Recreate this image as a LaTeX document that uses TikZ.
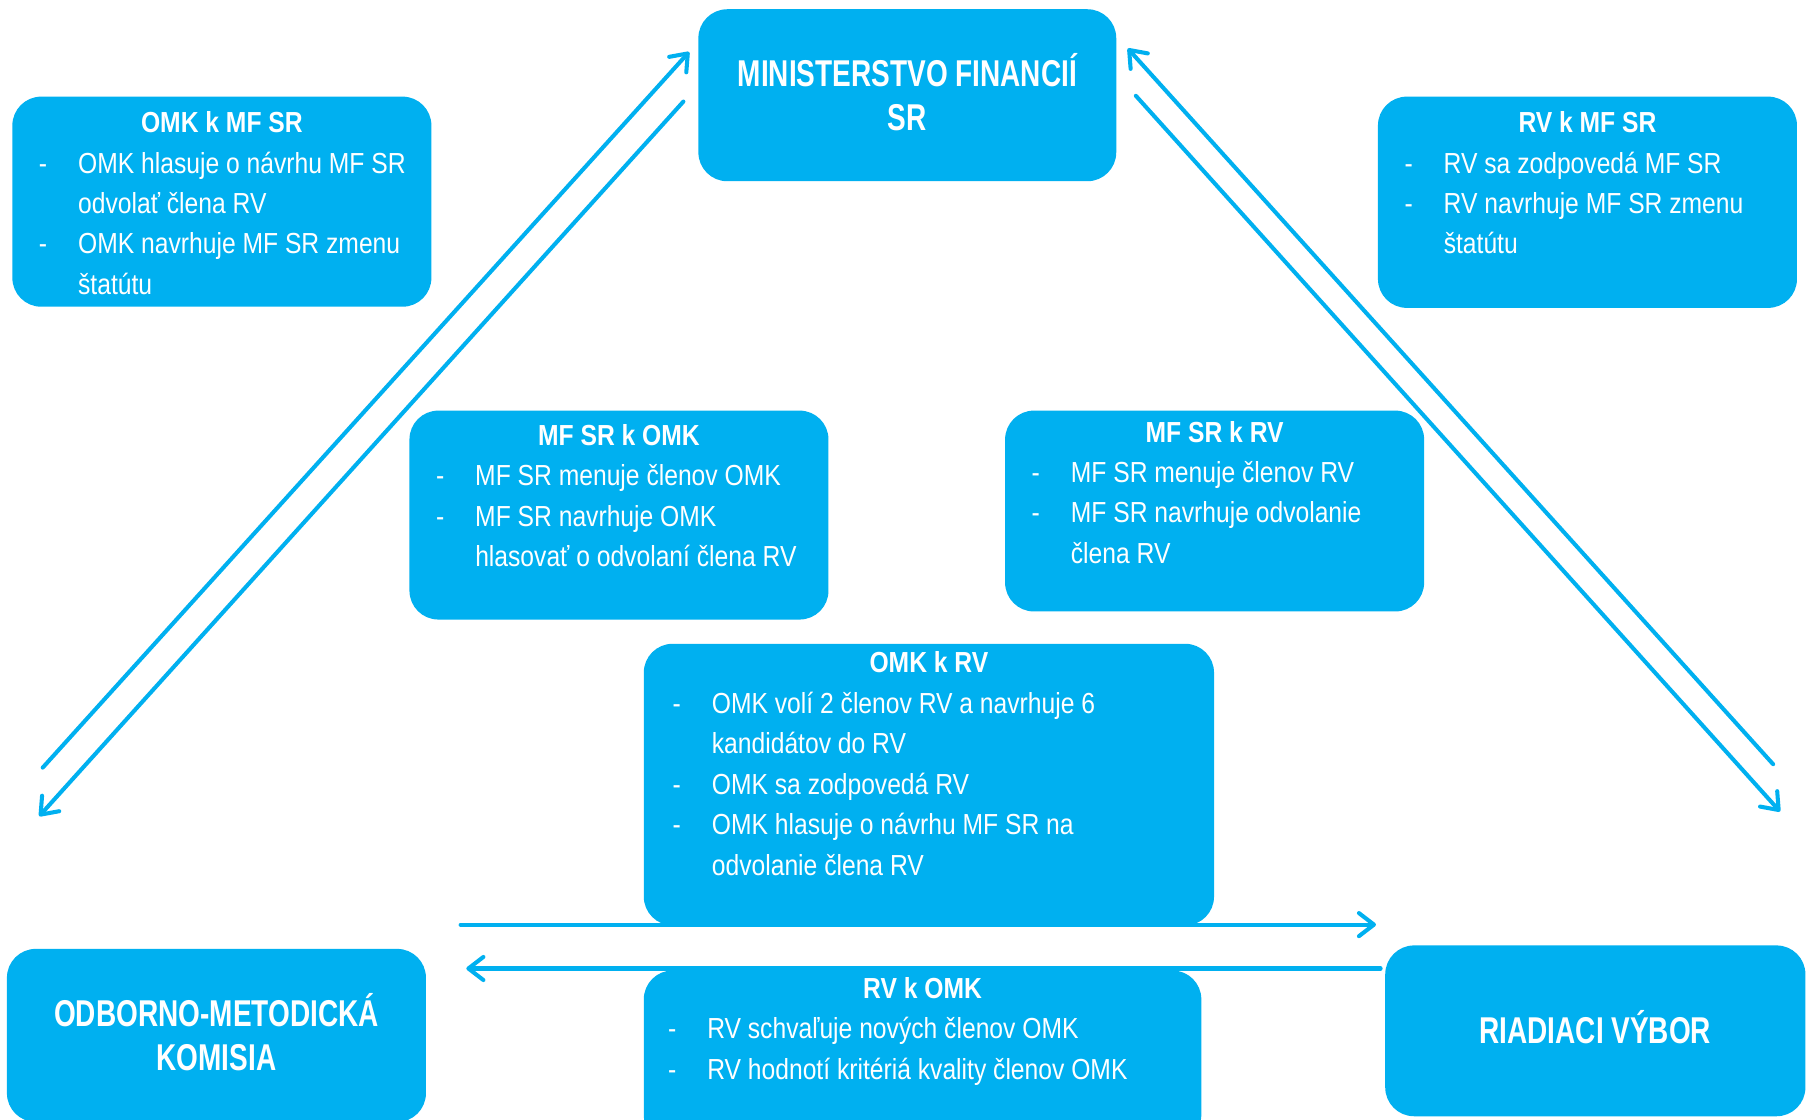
\documentclass[tikz,border=0pt]{standalone}
\usepackage{fontspec}
\setmainfont[FakeStretch=0.85]{Liberation Sans}
\newfontfamily\partyfont[FakeStretch=0.75]{Liberation Sans}
\usetikzlibrary{arrows.meta,positioning}
\definecolor{skyblue}{HTML}{00B0F0}

\tikzset{
  card/.style={fill=skyblue, rounded corners=2.5mm, inner sep=0pt, anchor=north west},
  cardhead/.style={anchor=base, inner sep=0pt, text=white, font=\fontsize{7.15}{9.96}\selectfont\bfseries},
  carditems/.style={anchor=base west, inner sep=0pt, text=white, font=\fontsize{7.15}{9.96}\selectfont},
  party/.style={card, anchor=center, text=white, align=center, font=\partyfont\fontsize{9.2}{10.9}\selectfont\bfseries},
  link/.style={draw=skyblue, line width=1pt, line cap=round, -{Straight Barb[length=1.3mm,width=2mm,round]}}
}
\newcommand{\dsh}{\makebox[3.4mm][l]{-}}
\newcommand{\cont}{\hspace*{3.4mm}}
\newcommand{\itemlines}[1]{\begin{tabular}[t]{@{}l@{}}#1\end{tabular}}
\newcommand{\lift}{\rule[-0.6mm]{0pt}{0.1pt}}

\begin{document}
\begin{tikzpicture}
    \path[use as bounding box, fill=white] (0,0) rectangle (15.68,-9.70);

    % the three bodies
    \node[party, minimum width=3.62cm, minimum height=1.49cm] (mf) at (7.86,-0.825) {MINISTERSTVO FINANCIÍ\\SR\lift};
    \node[party, minimum width=3.63cm, minimum height=1.50cm] (omk) at (1.875,-8.97) {ODBORNO-METODICKÁ\\KOMISIA\lift};
    \node[party, minimum width=3.64cm, minimum height=1.48cm] (rv) at (13.82,-8.93) {RIADIACI VÝBOR\lift};

    % relation cards
    \foreach \n/\x/\y/\w/\h in {omkmf/0.10/0.83/3.63/1.82, rvmf/11.93/0.83/3.63/1.83,
                                mfomk/3.54/3.55/3.63/1.81, mfrv/8.70/3.55/3.63/1.74,
                                omkrv/5.57/5.57/4.94/2.44, rvomk/5.57/8.40/4.83/1.50}
        \node[card, minimum width=\w cm, minimum height=\h cm] (\n) at (\x,-\y) {};

    \foreach \n/\d/\t in {omkmf/3.2/OMK k MF SR, rvmf/3.2/RV k MF SR, mfomk/3.1/MF SR k OMK,
                          mfrv/2.8/MF SR k RV, omkrv/2.6/OMK k RV, rvomk/2.5/RV k OMK}
        \node[cardhead] (\n-head) at ([yshift=-\d mm]\n.north) {\t};

    \node[carditems] (omkmf-list) at ([xshift=2.3mm, yshift=-6.7mm]omkmf.north west)
        {\itemlines{\dsh OMK hlasuje o návrhu MF SR\\ \cont odvolať člena RV\\ \dsh OMK navrhuje MF SR zmenu\\ \cont štatútu}};
    \node[carditems] (rvmf-list) at ([xshift=2.3mm, yshift=-6.7mm]rvmf.north west)
        {\itemlines{\dsh RV sa zodpovedá MF SR\\ \dsh RV navrhuje MF SR zmenu\\ \cont štatútu}};
    \node[carditems] (mfomk-list) at ([xshift=2.3mm, yshift=-6.6mm]mfomk.north west)
        {\itemlines{\dsh MF SR menuje členov OMK\\ \dsh MF SR navrhuje OMK\\ \cont hlasovať o odvolaní člena RV}};
    \node[carditems] (mfrv-list) at ([xshift=2.3mm, yshift=-6.3mm]mfrv.north west)
        {\itemlines{\dsh MF SR menuje členov RV\\ \dsh MF SR navrhuje odvolanie\\ \cont člena RV}};
    \node[carditems] (omkrv-list) at ([xshift=2.5mm, yshift=-6.1mm]omkrv.north west)
        {\itemlines{\dsh OMK volí 2 členov RV a navrhuje 6\\ \cont kandidátov do RV\\ \dsh OMK sa zodpovedá RV\\
         \dsh OMK hlasuje o návrhu MF SR na\\ \cont odvolanie člena RV}};
    \node[carditems] (rvomk-list) at ([xshift=2.1mm, yshift=-6.0mm]rvomk.north west)
        {\itemlines{\dsh RV schvaľuje nových členov OMK\\ \dsh RV hodnotí kritériá kvality členov OMK}};

    %% arrow ends
    \coordinate (omk-up)   at (0.37,-6.65);
    \coordinate (mf-sw)    at (5.97,-0.45);
    \coordinate (mf-down)  at (5.92,-0.88);
    \coordinate (omk-ne)   at (0.34,-7.07);
    \coordinate (rv-up)    at (15.36,-6.62);
    \coordinate (mf-se)    at (9.77,-0.42);
    \coordinate (mf-out)   at (9.84,-0.83);
    \coordinate (rv-nw)    at (15.42,-7.03);
    \coordinate (omk-r)    at (3.99,-8.01);
    \coordinate (rv-l)     at (11.92,-8.01);
    \coordinate (rv-back)  at (11.96,-8.39);
    \coordinate (omk-in)   at (4.04,-8.39);

    \draw[link] (omk-up) -- (mf-sw);
    \draw[link] (mf-down) -- (omk-ne);
    \draw[link] (rv-up) -- (mf-se);
    \draw[link] (mf-out) -- (rv-nw);
    \draw[link] (omk-r) -- (rv-l);
    \draw[link] (rv-back) -- (omk-in);
\end{tikzpicture}
\end{document}
